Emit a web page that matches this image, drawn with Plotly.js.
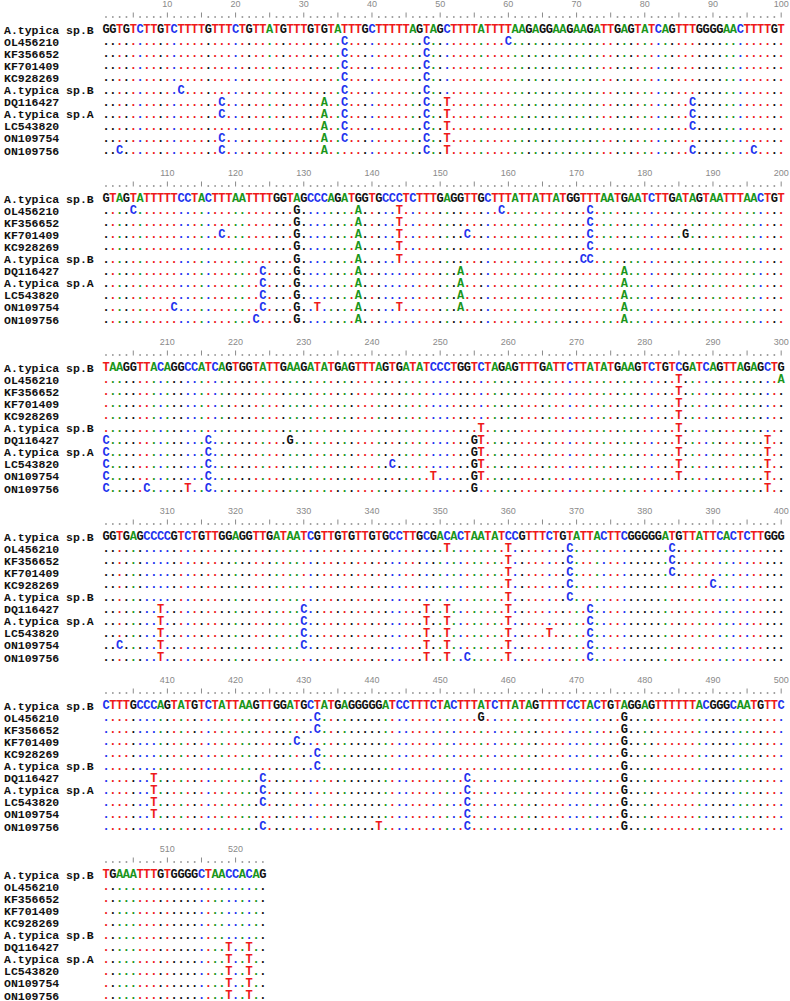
<!DOCTYPE html>
<html><head><meta charset="utf-8">
<script src="https://cdn.plot.ly/plotly-3.0.1.min.js"></script>
<style>html,body{margin:0;padding:0;background:#fff}#chart{width:790px;height:1001px}</style>
</head><body><div id="chart"></div>
<script>
// ---- data ----
const seqNames = ["A.typica sp.B","OL456210","KF356652","KF701409","KC928269","A.typica sp.B","DQ116427","A.typica sp.A","LC543820","ON109754","ON109756"];
const blockStart = [1, 101, 201, 301, 401, 501];
const refBlocks = [
  "GGTGTCTTGTCTTTTGTTTCTGTTATGTTTGTGTATTTGCTTTTTAGTAGCTTTTATTTTAAGAGGAAGAAGATTGAGTATCAGTTTGGGGAACTTTTGT",
  "GTAGTATTTTTCCTACTTTAATTTTGGTAGCCCAGATGGTGCCCTCTTTGAGGTTGCTTTATTATTATGGTTTAATGAATCTTGATAGTAATTTAACTGT",
  "TAAGGTTACAGGCCATCAGTGGTATTGAAGATATGAGTTTAGTGATATCCCTGGTCTAGAGTTTGATTCTTATATGAAGTCTGTCGATCAGTTAGAGCTG",
  "GGTGAGCCCCGTCTGTTGGAGGTTGATAATCGTTGTGTTGTGCCTTGCGACACTAATATCCGTTTCTGTATTACTTCGGGGGATGTTATTCACTCTTGGG",
  "CTTTGCCCAGTATGTCTATTAAGTTGGATGCTATGAGGGGGATCCTTTCTACTTTATCTTATAGTTTTCCTACTGTAGGAGTTTTTTACGGGCAATGTTC",
  "TGAAATTTGTGGGGCTAACCACAG"
];
// differences from the first sequence (position + base)
const varOL456210 = ["36C","48C","60C","105C","129G","138A","144T","159C","172C","285T","300A","351T","360T","369C","384C","432C","456G","477G"];
const varKF356652 = ["36C","48C","129G","138A","144T","172C","285T","360T","369C","384C","432C","477G"];
const varKF701409 = ["36C","48C","118C","129G","138A","144T","154C","172C","186G","285T","360T","369C","384C","429C","477G"];
const varKC928269 = ["36C","48C","129G","138A","144T","172C","285T","360T","369C","390C","432C","477G"];
const varTypicaB2 = ["12C","36C","48C","129G","138A","144T","171C","172C","256T","285T","360T","369C","432C","477G"];
const varDQ116427 = ["18C","33A","36C","48C","51T","87C","124C","129G","138A","153A","177A","201C","216C","228G","255G","256T","285T","298T","309T","330C","348T","351T","360T","372C","408T","424C","454C","477G","519T","522T"];
const varTypicaA = ["18C","33A","36C","48C","51T","87C","124C","129G","138A","153A","177A","201C","216C","255G","256T","285T","298T","309T","330C","348T","351T","360T","372C","408T","424C","454C","477G","519T","522T"];
const varLC543820 = ["33A","36C","48C","51T","87C","124C","129G","138A","153A","177A","201C","216C","243C","255G","256T","285T","298T","309T","330C","348T","351T","360T","366T","372C","408T","424C","454C","477G","519T","522T"];
const varON109754 = ["18C","33A","36C","48C","51T","111C","124C","129G","132T","138A","144T","153A","177A","201C","216C","249T","255G","256T","285T","298T","303C","309T","330C","348T","351T","360T","372C","408T","454C","477G","519T","522T"];
const varON109756 = ["3C","18C","33A","48C","51T","87C","96C","123C","129G","138A","177A","201C","207C","213T","216C","255G","298T","309T","348T","351T","354C","360T","372C","424C","441T","454C","477G","519T","522T"];
const variantRows = [varOL456210,varKF356652,varKF701409,varKC928269,varTypicaB2,varDQ116427,varTypicaA,varLC543820,varON109754,varON109756];

// ---- layout constants ----
const W = 790, H = 1001, COL1 = 106, PITCH = 6.82;
const BLOCK_Y0 = 30, BLOCK_STEP = 169, ROW_STEP = 12.1;
const xMin = 1 - COL1 / PITCH, xMax = xMin + W / PITCH;
const baseColor = {A:'#1a961a', C:'#2233ee', G:'#111111', T:'#ee1a1a'};

const variantMaps = variantRows.map(list => {
  const m = {};
  list.forEach(s => { m[parseInt(s, 10)] = s.replace(/[0-9]/g, ''); });
  return m;
});

const sx=[], sy=[], st=[], sc=[];
const rdx=[], rdy=[], rbx=[], rby=[], nx=[], ny=[], nt=[];
const annotations = [];
refBlocks.forEach((blk, k) => {
  const yRef = BLOCK_Y0 + BLOCK_STEP * k;
  const start = blockStart[k];
  for (let c = 1; c <= blk.length; c++) {
    const pos = start + c - 1;
    if (c % 5 === 0) { rbx.push(c, c, null); rby.push(yRef - 17.5, yRef - 12.5, null); }
    else { rdx.push(c); rdy.push(yRef - 13); }
    if (pos % 10 === 0) { nx.push(c); ny.push(yRef - 25.5); nt.push(String(pos)); }
    const b = blk[c - 1];
    sx.push(c); sy.push(yRef); st.push(b); sc.push(baseColor[b]);
    variantMaps.forEach((vm, r) => {
      const v = vm[pos];
      sx.push(c); sy.push(yRef + ROW_STEP * (r + 1));
      st.push(v || '.'); sc.push(baseColor[v || b]);
    });
  }
  seqNames.forEach((nm, r) => {
    annotations.push({
      x: xMin + 2 / PITCH, y: yRef + ROW_STEP * r, xref: 'x', yref: 'y',
      text: nm, showarrow: false, xanchor: 'left', yanchor: 'middle',
      font: {family: 'Liberation Mono, Courier New, monospace', size: 11.5, color: '#111', weight: 'bold'}
    });
  });
});

const traces = [
  {type:'scatter', mode:'text', x:sx, y:sy, text:st, textposition:'middle center',
   textfont:{family:'Liberation Mono, Courier New, monospace', size:12, color:sc, weight:'bold'},
   hoverinfo:'skip', showlegend:false},
  {type:'scatter', mode:'markers', x:rdx, y:rdy,
   marker:{symbol:'square', size:1.6, color:'#8a8a8a', line:{width:0}}, hoverinfo:'skip', showlegend:false},
  {type:'scatter', mode:'lines', x:rbx, y:rby, line:{color:'#8a8a8a', width:1}, hoverinfo:'skip', showlegend:false},
  {type:'scatter', mode:'text', x:nx, y:ny, text:nt, textposition:'middle center',
   textfont:{family:'Liberation Sans, Arial, sans-serif', size:9, color:'#8a8a8a'}, hoverinfo:'skip', showlegend:false}
];

const layout = {
  width: W, height: H,
  margin: {l:0, r:0, t:0, b:0, pad:0},
  paper_bgcolor: '#ffffff', plot_bgcolor: '#ffffff',
  xaxis: {range:[xMin, xMax], visible:false, fixedrange:true},
  yaxis: {range:[H, 0], visible:false, fixedrange:true},
  annotations: annotations,
  showlegend: false, hovermode: false
};
Plotly.newPlot('chart', traces, layout, {displayModeBar:false, staticPlot:true});
</script>
</body></html>
